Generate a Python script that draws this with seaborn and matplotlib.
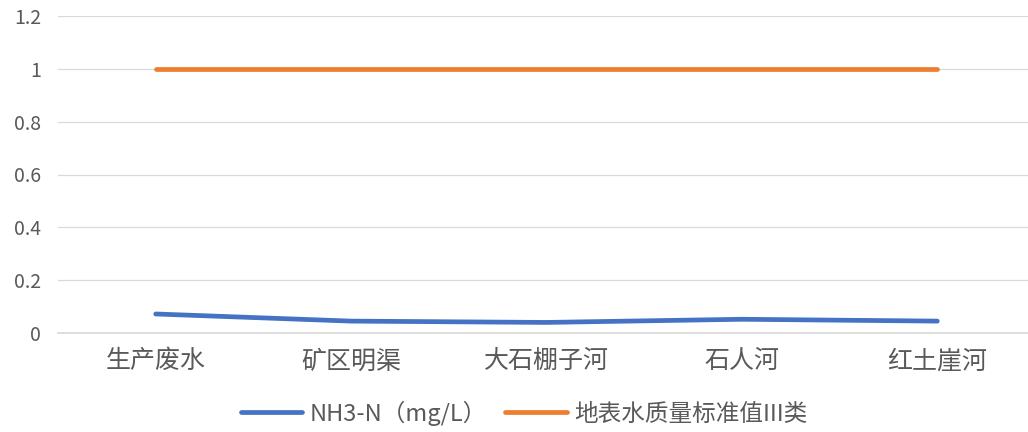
import matplotlib
matplotlib.use("Agg")
import matplotlib.pyplot as plt
import seaborn as sns
import pandas as pd

categories = ["生产废水", "矿区明渠", "大石棚子河", "石人河", "红土崖河"]
nh3n = [0.072, 0.045, 0.040, 0.052, 0.045]
standard = [1, 1, 1, 1, 1]
series_names = ["NH3-N（mg/L）", "地表水质量标准值III类"]
yticks = [0, 0.2, 0.4, 0.6, 0.8, 1, 1.2]
ytick_labels = ["0", "0.2", "0.4", "0.6", "0.8", "1", "1.2"]

sns.set_theme(style="white")
plt.rcParams['font.family'] = ['Noto Sans CJK SC', 'DejaVu Sans']

df = pd.DataFrame({
    "cat": categories * 2,
    "x": list(range(len(categories))) * 2,
    "value": nh3n + standard,
    "series": [series_names[0]] * len(categories) + [series_names[1]] * len(categories),
})

W, H = 1028, 432
fig = plt.figure(figsize=(W / 100, H / 100), dpi=100)
left, right, top, bottom = 58, 1035, 16, 333
ax = fig.add_axes([left / W, (H - bottom) / H, (right - left) / W, (bottom - top) / H])

sns.lineplot(data=df, x="x", y="value", hue="series",
             palette=["#4472C4", "#ED7D31"], linewidth=3.4, ax=ax,
             legend=True)

ax.set_xlim(-0.5, len(categories) - 0.5)
ax.set_ylim(0, 1.2)
ax.set_yticks(yticks)
ax.set_yticklabels(ytick_labels, color="#595959", fontsize=14)
ax.set_xticks(range(len(categories)))
ax.set_xticklabels(categories, color="#595959", fontsize=18)
ax.tick_params(axis="y", length=0, pad=12)
ax.tick_params(axis="x", length=0, pad=11)
ax.grid(axis="y", color="#D9D9D9", linewidth=0.9)
ax.set_axisbelow(True)
for s in ["top", "right", "left"]:
    ax.spines[s].set_visible(False)
ax.spines["bottom"].set_color("#D9D9D9")
ax.set_xlabel("")
ax.set_ylabel("")

handles, labels = ax.get_legend_handles_labels()
ax.get_legend().remove()
leg = fig.legend(handles, labels, loc="center", bbox_to_anchor=(524 / W, 1 - 413 / H), ncol=2,
                 frameon=False, fontsize=17, handlelength=2.6, handletextpad=0.3,
                 columnspacing=0.8)
for t in leg.get_texts():
    t.set_color("#595959")
for l in leg.get_lines():
    l.set_linewidth(3.4)

fig.savefig("out.png", dpi=100, facecolor="white")
